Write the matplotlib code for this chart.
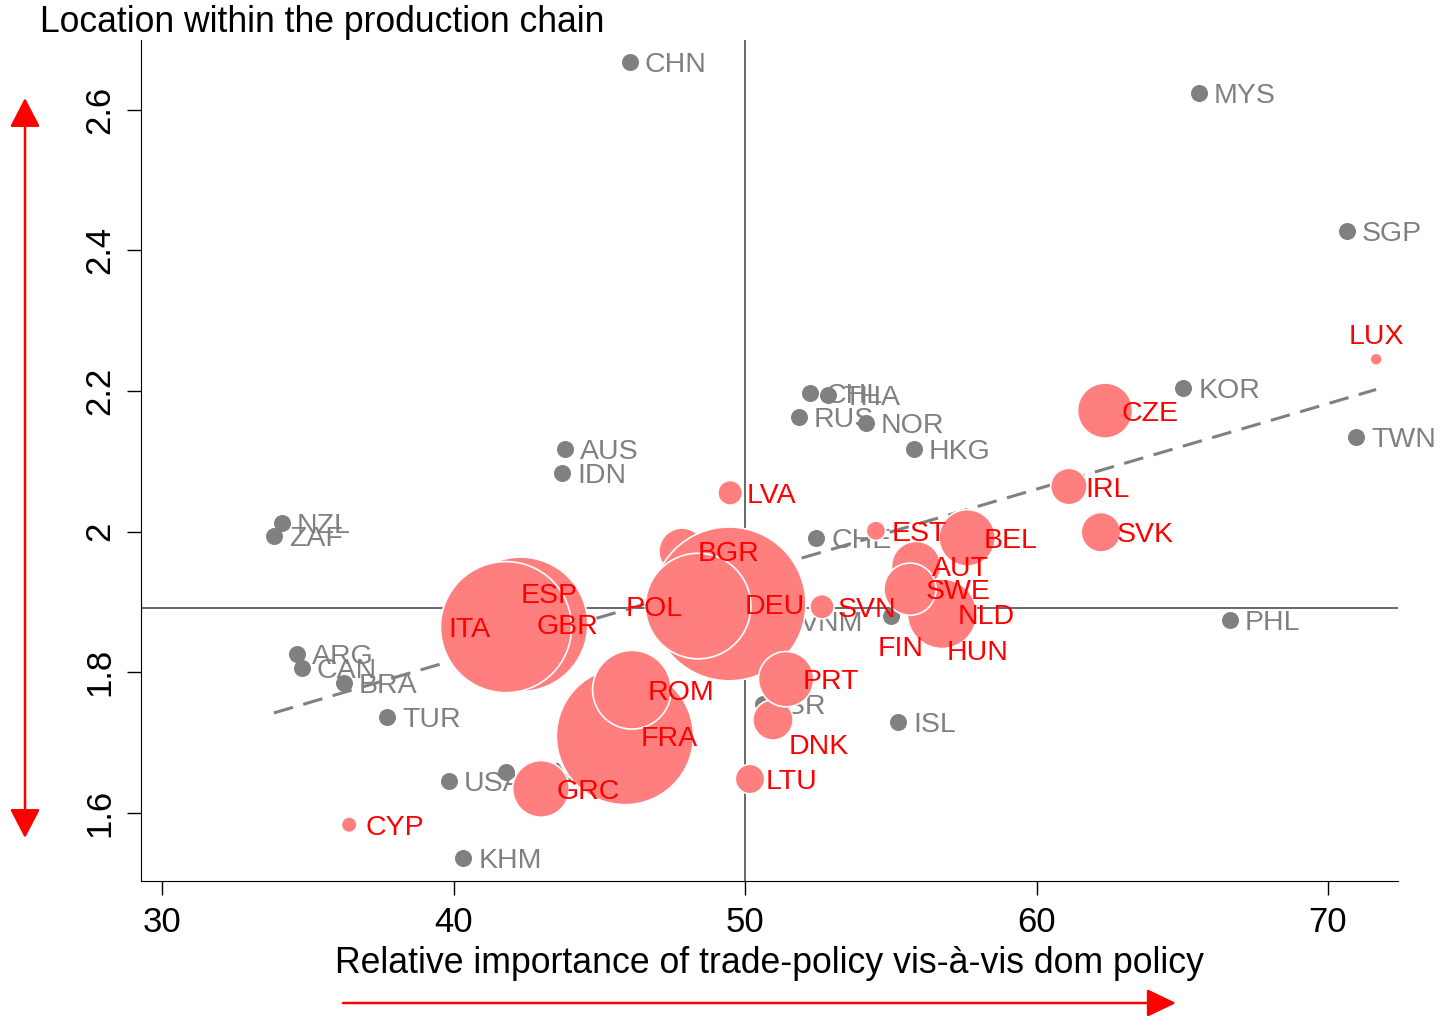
import matplotlib.pyplot as plt

plt.rcParams['font.family'] = ['Liberation Sans', 'DejaVu Sans']

# EU countries (bubbles, size = population in millions)
eu_codes = ['AUT', 'BEL', 'BGR', 'CYP', 'CZE', 'DEU', 'DNK', 'ESP', 'EST', 'FIN',
            'FRA', 'GBR', 'GRC', 'HUN', 'IRL', 'ITA', 'LTU', 'LUX', 'LVA', 'NLD',
            'POL', 'PRT', 'ROM', 'SVK', 'SVN', 'SWE']
eu_x = [55.87, 57.62, 47.84, 36.42, 62.35, 49.45, 50.96, 41.95, 54.49, 55.73,
        45.88, 42.30, 43.00, 56.70, 61.11, 41.80, 50.17, 71.65, 49.49, 56.76,
        48.39, 51.41, 46.12, 62.21, 52.64, 55.66]
eu_y = [1.951, 1.991, 1.972, 1.583, 2.172, 1.897, 1.732, 1.873, 2.001, 1.907,
        1.709, 1.868, 1.634, 1.876, 2.064, 1.864, 1.648, 2.245, 2.055, 1.883,
        1.894, 1.790, 1.775, 1.999, 1.893, 1.918]
eu_pop = [8.4, 11.0, 7.4, 0.84, 10.5, 81.8, 5.6, 46.2, 1.3, 5.4,
          65.0, 62.5, 11.1, 10.0, 4.6, 59.4, 3.0, 0.51, 2.1, 16.7,
          38.5, 10.6, 21.4, 5.4, 2.05, 9.4]

# other countries (grey dots)
other_codes = ['CHN', 'MYS', 'SGP', 'KOR', 'TWN', 'CHL', 'THA', 'RUS', 'NOR', 'HKG',
               'AUS', 'IDN', 'NZL', 'ZAF', 'CHE', 'VNM', 'MEX', 'ISR', 'USA', 'JPN',
               'KHM', 'ARG', 'CAN', 'BRA', 'TUR', 'ISL', 'PHL']
other_x = [46.05, 65.57, 70.65, 65.03, 70.96, 52.23, 52.85, 51.85, 54.15, 55.80,
           43.82, 43.72, 34.12, 33.84, 52.44, 51.37, 55.01, 50.62, 39.85, 41.80,
           40.33, 34.63, 34.80, 36.24, 37.72, 55.25, 66.64]
other_y = [2.668, 2.623, 2.428, 2.204, 2.134, 2.197, 2.194, 2.163, 2.154, 2.117,
           2.118, 2.083, 2.012, 1.993, 1.991, 1.873, 1.880, 1.755, 1.645, 1.658,
           1.536, 1.826, 1.806, 1.785, 1.736, 1.729, 1.874]

# fitted line and reference lines
trend_x = [33.84, 71.65]
trend_y = [1.742, 2.202]
x_ref = 50
y_ref = 1.891

xticks = [30, 40, 50, 60, 70]
yticks = [1.6, 1.8, 2.0, 2.2, 2.4, 2.6]
ytick_labels = ['1.6', '1.8', '2', '2.2', '2.4', '2.6']

# label placement exceptions (offset pixels, alignment)
label_pos = {
    'ITA': (-15, -3, 'right'),
    'POL': (-15, -3, 'right'),
    'LUX': (0, 22, 'center'),
    'DNK': (16, -27, 'left'),
    'FIN': (-34, -52, 'left'),
    'HUN': (6, -34, 'left'),
    'ESP': (10, 25, 'left'),
}

red_fill = '#ff7f7f'
grey = '#808080'

fig = plt.figure(figsize=(14.42, 10.16), dpi=100)
ax = fig.add_axes([0.0978, 0.1329, 0.8717, 0.8277])

ax.axvline(x_ref, color='#404040', lw=1.1, zorder=1)
ax.axhline(y_ref, color='#404040', lw=1.1, zorder=1)

ax.scatter(other_x, other_y, s=150, color=grey, zorder=2, linewidths=0)
for c, x, y in zip(other_codes, other_x, other_y):
    ax.annotate(c, (x, y), xytext=(15, -3), textcoords='offset pixels',
                ha='left', va='center', fontsize=20.5, color=grey, zorder=2)

ax.plot(trend_x, trend_y, color=grey, lw=2.2, dashes=(6.5, 3.5), zorder=3)

sizes = [150 * p for p in eu_pop]
ax.scatter(eu_x, eu_y, s=sizes, color=red_fill, edgecolors='white',
           linewidths=1.2, zorder=4)
for c, x, y in zip(eu_codes, eu_x, eu_y):
    dx, dy, ha = label_pos.get(c, (16, -3, 'left'))
    ax.annotate(c, (x, y), xytext=(dx, dy), textcoords='offset pixels',
                ha=ha, va='center', fontsize=20.5, color='red', zorder=5)

ax.set_xlim(29.28, 72.4)
ax.set_ylim(1.503, 2.699)
ax.set_xticks(xticks)
ax.set_yticks(yticks)
ax.set_yticklabels(ytick_labels, rotation=90, va='center')
ax.tick_params(direction='out', length=10, width=1, labelsize=25, pad=8)
for s in ['top', 'right']:
    ax.spines[s].set_visible(False)

ax.set_xlabel('Relative importance of trade-policy vis-à-vis dom policy',
              fontsize=25.7, labelpad=5)
fig.text(40 / 1442, 1 - 22 / 1016, 'Location within the production chain',
         fontsize=25.6, ha='left', va='center')

# red arrows
ax.annotate('', xy=(25, 1016 - 98), xytext=(25, 1016 - 838),
            xycoords='figure pixels', textcoords='figure pixels',
            arrowprops=dict(arrowstyle='<|-|>,head_length=1.0,head_width=0.52',
                            mutation_scale=18, color='red', lw=1.8,
                            shrinkA=0, shrinkB=0))
ax.annotate('', xy=(1176, 13), xytext=(343, 13),
            xycoords='figure pixels', textcoords='figure pixels',
            arrowprops=dict(arrowstyle='-|>,head_length=1.0,head_width=0.48',
                            mutation_scale=18, color='red', lw=1.8,
                            shrinkA=0, shrinkB=0))

fig.savefig('out.png', dpi=100)
